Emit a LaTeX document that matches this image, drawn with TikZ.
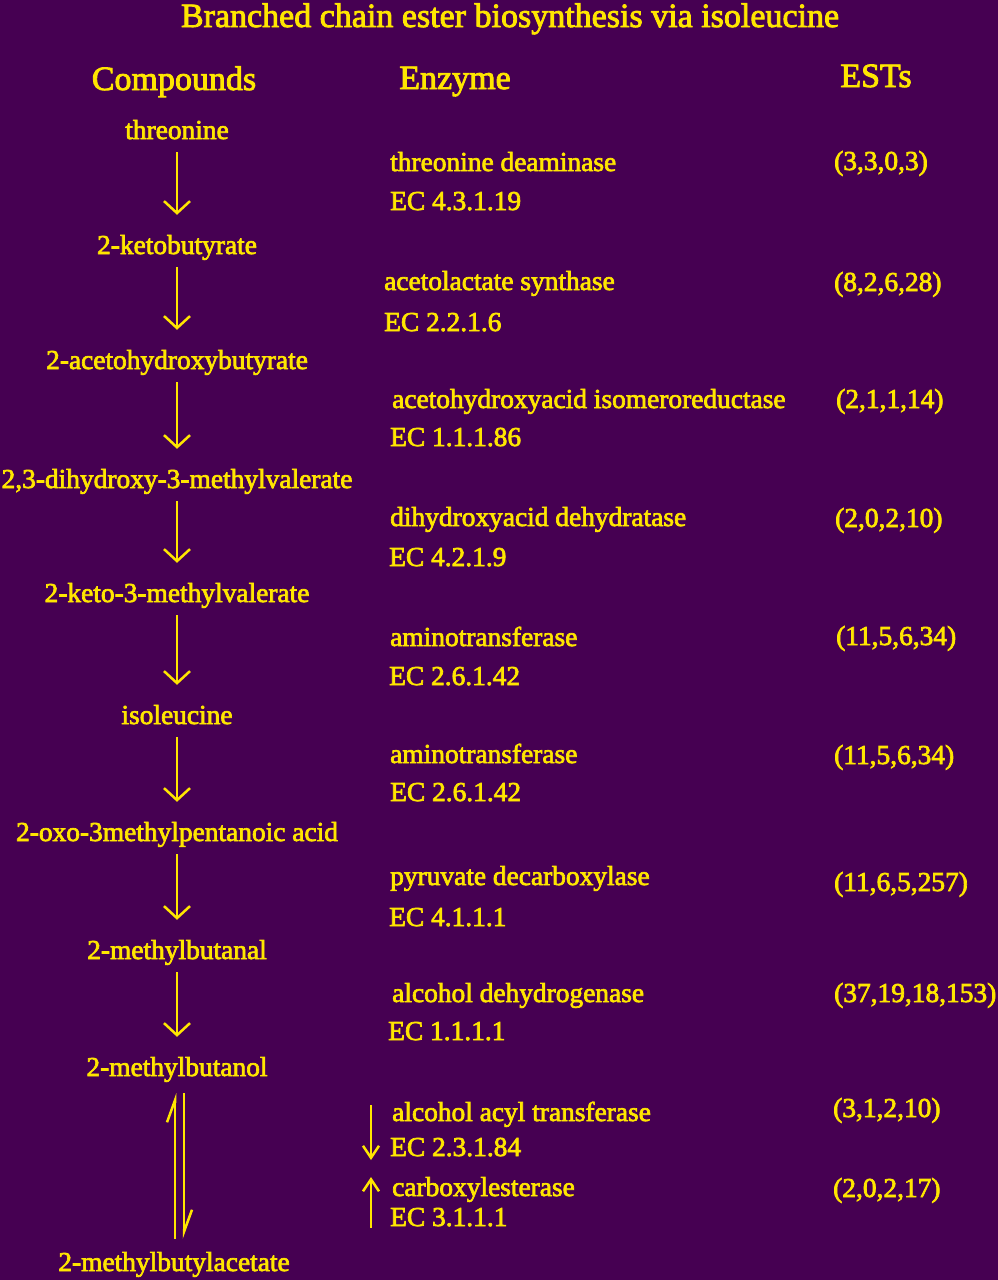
\documentclass[tikz,border=0pt]{standalone}
\usepackage{fontspec}
\setmainfont{Liberation Serif}[FakeBold=2.5]
\usetikzlibrary{arrows.meta}
\definecolor{bg}{RGB}{70,0,82}
\definecolor{fg}{RGB}{255,230,0}
\tikzset{
  txt/.style={text=fg, font=\fontsize{27.4}{30}\selectfont, inner sep=0pt, text height=19pt, text depth=6pt},
  cmp/.style={txt, anchor=base},
  enz/.style={txt, anchor=base west},
  hdr/.style={txt, font=\fontsize{34}{40}\selectfont, anchor=base, text height=24pt, text depth=8pt},
  arr/.style={draw=fg, line width=2.5pt, -{Straight Barb[length=12pt,width=26pt]}, shorten <=7pt, shorten >=20pt},
  sarr/.style={draw=fg, line width=2.5pt, -{Straight Barb[length=12pt,width=16pt]}},
  harp/.style={draw=fg, line width=2.5pt, -{Straight Barb[left,length=22pt,width=16pt]}},
}
\begin{document}
\begin{tikzpicture}[x=1pt,y=-1pt]
\fill[bg] (0,0) rectangle (998,1280);
\useasboundingbox (0,0) rectangle (998,1280);
% headers
\node[hdr] (title) at (510,27) {Branched chain ester biosynthesis via isoleucine};
\node[hdr] (hc) at (174,90) {Compounds};
\node[hdr] (he) at (455,89) {Enzyme};
\node[hdr] (hs) at (876,87) {ESTs};
% compounds
\node[cmp] (c1) at (177,139) {threonine};
\node[cmp] (c2) at (177,254) {2-ketobutyrate};
\node[cmp] (c3) at (177,369) {2-acetohydroxybutyrate};
\node[cmp] (c4) at (177,488) {2,3-dihydroxy-3-methylvalerate};
\node[cmp] (c5) at (177,602) {2-keto-3-methylvalerate};
\node[cmp] (c6) at (177,724) {isoleucine};
\node[cmp] (c7) at (177,841) {2-oxo-3methylpentanoic acid};
\node[cmp] (c8) at (177,959) {2-methylbutanal};
\node[cmp] (c9) at (177,1076) {2-methylbutanol};
\node[cmp] (c10) at (174,1271) {2-methylbutylacetate};
% arrows
\draw[arr] (c1) -- (c2);
\draw[arr] (c2) -- (c3);
\draw[arr] (c3) -- (c4);
\draw[arr] (c4) -- (c5);
\draw[arr] (c5) -- (c6);
\draw[arr] (c6) -- (c7);
\draw[arr] (c7) -- (c8);
\draw[arr] (c8) -- (c9);
\draw[harp, shorten <=13pt, shorten >=11pt] (c10.north -| 175,0) -- (c9.south -| 175,0);
\draw[harp, shorten <=11pt, shorten >=13pt] (c9.south -| 184,0) -- (c10.north -| 184,0);
% enzymes
\node[enz] (e1) at (390,171) {threonine deaminase};
\node[enz] (n1) at (390,210) {EC 4.3.1.19};
\node[enz] (s1) at (834,170) {(3,3,0,3)};
\node[enz] (e2) at (384,290) {acetolactate synthase};
\node[enz] (n2) at (384,331) {EC 2.2.1.6};
\node[enz] (s2) at (834,291) {(8,2,6,28)};
\node[enz] (e3) at (392,408) {acetohydroxyacid isomeroreductase};
\node[enz] (n3) at (390,446) {EC 1.1.1.86};
\node[enz] (s3) at (836,408) {(2,1,1,14)};
\node[enz] (e4) at (390,526) {dihydroxyacid dehydratase};
\node[enz] (n4) at (389,566) {EC 4.2.1.9};
\node[enz] (s4) at (835,527) {(2,0,2,10)};
\node[enz] (e5) at (390,646) {aminotransferase};
\node[enz] (n5) at (389,685) {EC 2.6.1.42};
\node[enz] (s5) at (836,645) {(11,5,6,34)};
\node[enz] (e6) at (390,763) {aminotransferase};
\node[enz] (n6) at (390,801) {EC 2.6.1.42};
\node[enz] (s6) at (834,764) {(11,5,6,34)};
\node[enz] (e7) at (390,885) {pyruvate decarboxylase};
\node[enz] (n7) at (389,926) {EC 4.1.1.1};
\node[enz] (s7) at (834,891) {(11,6,5,257)};
\node[enz] (e8) at (392,1002) {alcohol dehydrogenase};
\node[enz] (n8) at (388,1040) {EC 1.1.1.1};
\node[enz] (s8) at (834,1002) {(37,19,18,153)};
\node[enz] (e9) at (392,1121) {alcohol acyl transferase};
\node[enz] (n9) at (390,1156) {EC 2.3.1.84};
\node[enz] (s9) at (833,1117) {(3,1,2,10)};
\node[enz] (e10) at (392,1196) {carboxylesterase};
\node[enz] (n10) at (390,1226) {EC 3.1.1.1};
\node[enz] (s10) at (833,1197) {(2,0,2,17)};
% small direction arrows
\coordinate (d1) at (371,1105);
\coordinate (d2) at (371,1160);
\coordinate (u1) at (371,1228);
\coordinate (u2) at (371,1177);
\draw[sarr] (d1) -- (d2);
\draw[sarr] (u1) -- (u2);
\end{tikzpicture}
\end{document}
